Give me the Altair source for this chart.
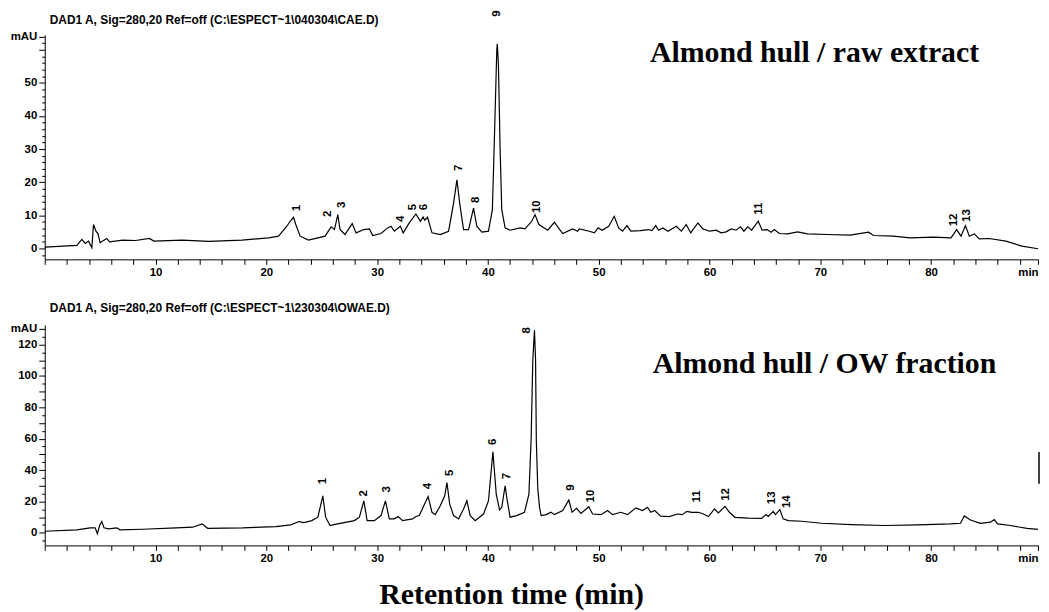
import altair as alt
import pandas as pd

# ---------------- data ----------------
top_time = [0, 2.9, 3.35, 3.65, 3.95, 4.25, 4.4, 4.62, 4.8, 5.0, 5.2, 5.6, 5.85, 7.05, 8.2, 9.45, 9.85,
            12.4, 14.8, 17.8, 20.2, 21.1, 21.85, 22.15, 22.45, 22.65, 23.05, 23.8, 25.3, 25.85, 26.15,
            26.45, 26.65, 27.1, 27.75, 28.1, 28.8, 29.3, 29.6, 30.35, 30.95, 31.25, 31.55, 32.1, 32.35,
            32.9, 33.5, 33.9, 34.15, 34.3, 34.55, 34.95, 35.7, 36.45, 36.9, 37.2, 37.45, 37.8, 38.25,
            38.7, 39.0, 39.45, 40.05, 40.4, 40.6, 40.8, 40.85, 40.95, 41.1, 41.25, 41.55, 42.0, 42.9,
            43.35, 43.95, 44.25, 44.6, 45.4, 46.0, 46.3, 46.75, 47.65, 48.1, 48.25, 49.15, 49.6, 49.95,
            50.3, 50.9, 51.4, 51.8, 52.15, 52.55, 52.9, 53.75, 54.5, 54.8, 55.15, 55.4, 55.8, 56.25,
            57.0, 57.45, 57.9, 58.3, 58.95, 59.4, 60.0, 60.6, 61.05, 61.5, 61.95, 62.4, 62.8, 63.1,
            63.45, 63.8, 64.4, 64.75, 65.2, 65.55, 65.85, 66.3, 67.05, 67.95, 68.85, 70.6, 72.7, 74.35,
            74.8, 76.6, 78.1, 80.2, 81.8, 82.3, 82.7, 83.1, 83.45, 83.9, 84.35, 85.25, 86.75, 88.2, 89.65]
top_mau = [0.4, 0.9, 2.7, 1.5, 2.2, 0.2, 7.2, 5.2, 4.5, 1.7, 2.2, 3.0, 2.0, 2.5, 2.4, 3.0, 2.2,
           2.5, 2.1, 2.5, 3.2, 3.7, 6.7, 8.2, 9.4, 7.3, 3.7, 2.5, 3.7, 6.5, 5.7,
           10.2, 5.7, 4.2, 7.5, 4.7, 5.7, 5.9, 3.9, 4.5, 6.2, 6.7, 5.2, 6.7, 4.7,
           7.7, 10.4, 8.2, 9.5, 8.5, 9.4, 4.7, 4.2, 5.2, 13.7, 20.7, 13.7, 5.7, 5.7,
           12.2, 6.7, 4.9, 5.2, 11.7, 35.0, 60.0, 61.8, 55.0, 30.0, 11.7, 6.2, 5.5, 6.2,
           5.9, 8.2, 10.2, 7.2, 5.5, 7.9, 6.5, 4.5, 5.9, 5.2, 5.9, 5.2, 4.7, 6.2,
           5.5, 6.7, 9.7, 6.2, 5.2, 6.9, 5.2, 5.4, 5.7, 5.4, 6.9, 5.5, 6.2, 5.2,
           6.7, 5.2, 7.2, 4.7, 7.7, 5.9, 5.2, 5.5, 4.7, 5.0, 5.9, 5.5, 6.5, 5.2,
           6.5, 5.5, 8.2, 5.5, 5.7, 4.9, 5.7, 4.5, 4.4, 5.0, 4.4, 4.2, 4.0, 4.9,
           3.9, 3.7, 3.2, 3.4, 3.2, 5.7, 3.7, 6.9, 3.7, 4.4, 2.9, 3.0, 2.2, 0.7, -0.1]

bot_time = [0, 2.9, 4.1, 4.55, 4.75, 4.95, 5.15, 5.35, 5.75, 6.5, 6.8, 8.85, 11.85, 13.35, 14.2, 14.7,
            17.85, 20.85, 22.2, 22.95, 23.4, 24.1, 24.65, 25.1, 25.35, 25.75, 26.2, 27.95, 28.4, 28.8,
            29.1, 29.75, 30.35, 30.75, 31.1, 31.55, 31.9, 32.3, 33.2, 33.5, 33.8, 34.15, 34.6, 34.95,
            35.25, 35.7, 36.1, 36.3, 36.55, 36.9, 37.35, 37.8, 38.1, 38.4, 38.85, 39.6, 40.05, 40.45,
            40.75, 41.05, 41.25, 41.55, 41.75, 42.0, 42.6, 43.3, 43.7, 43.9, 44.05, 44.2, 44.3, 44.37,
            44.5, 44.66, 44.8, 45.26, 45.7, 46.0, 46.75, 47.3, 47.6, 48.0, 48.4, 49.1, 49.45, 50.2,
            50.8, 51.25, 52.0, 52.6, 53.35, 53.95, 54.4, 54.7, 55.05, 55.6, 56.35, 57.1, 57.55, 57.95,
            58.4, 59.0, 59.45, 59.9, 60.45, 60.8, 61.4, 61.8, 62.3, 63.5, 64.7, 65.1, 65.3, 65.75,
            65.95, 66.35, 66.65, 67.1, 68.3, 70.1, 72.8, 75.8, 78.8, 81.75, 82.65, 83.0, 83.55, 84.45,
            85.35, 85.7, 86.0, 87.15, 88.65, 89.65]
bot_mau = [1.0, 1.9, 3.2, 3.2, -0.6, 4.7, 7.2, 3.2, 2.5, 3.2, 1.9, 2.3, 3.2, 3.6, 5.7, 2.9,
           3.2, 4.0, 5.1, 7.2, 6.5, 7.8, 10.0, 23.6, 10.0, 4.7, 5.4, 7.8, 10.0, 20.4,
           7.8, 7.8, 11.0, 20.4, 8.9, 8.9, 10.4, 7.8, 8.9, 10.4, 11.0, 16.3, 23.2, 13.1,
           11.6, 17.3, 23.6, 32.0, 18.3, 11.0, 8.9, 15.2, 20.4, 11.0, 7.8, 12.0, 20.4, 51.6,
           24.7, 14.6, 16.3, 29.9, 20.4, 10.0, 11.0, 13.1, 24.7, 60.0, 110.0, 129.0, 110.0, 58.0,
           28.0, 16.2, 11.0, 11.6, 13.1, 11.6, 14.2, 20.9, 13.1, 15.6, 12.4, 16.6, 12.0, 11.6,
           14.2, 11.6, 13.1, 11.6, 15.9, 14.2, 16.3, 13.1, 14.2, 10.6, 10.4, 12.0, 11.6, 13.7,
           13.1, 13.1, 12.0, 10.4, 15.2, 12.7, 16.9, 13.1, 9.9, 9.4, 9.2, 11.6, 10.4, 13.7,
           11.6, 14.8, 8.9, 7.8, 7.4, 6.1, 5.3, 4.7, 5.1, 5.7, 6.1, 10.8, 8.2, 6.1,
           6.8, 8.4, 5.7, 4.7, 2.8, 2.2]

top_peak_labels = ["1", "2", "3", "4", "5", "6", "7", "8", "9", "10", "11", "12", "13"]
top_label_time = [22.8, 25.55, 26.8, 32.2, 33.2, 34.2, 37.4, 38.9, 40.8, 44.4, 64.45, 82.1, 83.2]
top_label_mau = [11.2, 9.5, 12.2, 8.0, 11.5, 11.5, 23.4, 13.7, 70.0, 10.7, 10.2, 6.7, 8.0]

bot_peak_labels = ["1", "2", "3", "4", "5", "6", "7", "8", "9", "10", "11", "12", "13", "14"]
bot_label_time = [25.1, 28.8, 30.85, 34.55, 36.6, 40.5, 41.7, 43.5, 47.5, 49.3, 58.85, 61.5, 65.65, 67.0]
bot_label_mau = [31.0, 23.2, 25.7, 27.8, 36.3, 55.9, 34.2, 127.0, 26.8, 19.4, 19.4, 20.4, 18.3, 15.8]

top_header = r"DAD1 A, Sig=280,20 Ref=off (C:\ESPECT~1\040304\CAE.D)"
bot_header = r"DAD1 A, Sig=280,20 Ref=off (C:\ESPECT~1\230304\OWAE.D)"
top_title = "Almond hull / raw extract"
bot_title = "Almond hull / OW fraction"
x_title = "Retention time (min)"

top_y_domain = [-3.3, 64.5]
top_y_ticks = list(range(-2, 65, 2))
bot_y_domain = [-8.0, 132.5]
bot_y_ticks = list(range(-5, 131, 5))
X_MAX = 89.65
x_ticks = list(range(0, 89, 2)) + [X_MAX]

# ---------------- styling ----------------
W = 1000
SANS = "Liberation Sans"
SERIF = "Liberation Serif"


def x_axis():
    return alt.Axis(
        values=x_ticks, title=None, grid=False,
        labelExpr=f"datum.value >= {X_MAX} ? 'min' : (datum.value % 10 === 0 && datum.value > 0 ? datum.label : '')",
        labelFlush=True, labelOverlap=False,
        tickSize=5, tickColor="black", tickWidth=1,
        domainColor="black", domainWidth=1,
        labelFont=SANS, labelFontSize=11.5, labelFontWeight="bold", labelColor="black", labelPadding=2,
    )


def y_axis(ticks, mau_tick, major, max_label):
    return alt.Axis(
        values=ticks, title=None, grid=False,
        labelExpr=(f"datum.value === {mau_tick} ? 'mAU' : "
                   f"(datum.value % {major} === 0 && datum.value >= 0 && datum.value <= {max_label} ? datum.label : '')"),
        labelOverlap=False,
        tickSize={"condition": {"test": f"datum.value % 10 === 0 || datum.value === {mau_tick}", "value": 6}, "value": 3},
        tickColor="black", tickWidth=1, domainColor="black", domainWidth=1,
        labelFont=SANS, labelFontSize=11.5, labelFontWeight="bold", labelColor="black", labelPadding=2,
        minExtent=37, maxExtent=37,
    )


def panel(time, mau, labs, lt, lv, ydom, yax, height, header, header_y, title, title_x, title_y, bottom=False):
    line_df = pd.DataFrame({"t": time, "v": mau})
    lab_df = pd.DataFrame({"t": lt, "v": lv, "lab": labs})
    one = pd.DataFrame({"k": [0]})
    xe = alt.X("t:Q", scale=alt.Scale(domain=[0, X_MAX], nice=False, zero=False), axis=x_axis())
    ye = alt.Y("v:Q", scale=alt.Scale(domain=ydom, nice=False, zero=False), axis=yax)

    line = alt.Chart(line_df).mark_line(color="black", strokeWidth=1.2).encode(x=xe, y=ye)
    labels = alt.Chart(lab_df).mark_text(
        angle=270, align="left", baseline="middle", font=SANS, fontSize=11.5,
        fontWeight="bold", color="black"
    ).encode(x=xe, y=ye, text="lab:N")
    head = alt.Chart(one).mark_text(
        text=header, align="left", baseline="middle", font=SANS, fontSize=12,
        fontWeight="bold", color="black"
    ).encode(x=alt.value(5), y=alt.value(header_y))
    ttl = alt.Chart(one).mark_text(
        text=title, align="center", baseline="alphabetic", font=SERIF, fontSize=30,
        fontWeight="bold", color="black"
    ).encode(x=alt.value(title_x), y=alt.value(title_y))
    layers = [line, labels, head, ttl]
    if bottom:
        xt = alt.Chart(one).mark_text(
            text=x_title, align="center", baseline="alphabetic", font=SERIF, fontSize=30,
            fontWeight="bold", color="black"
        ).encode(x=alt.value(470), y=alt.value(281))
        stray = alt.Chart(one).mark_rule(color="black", strokeWidth=1.5).encode(
            x=alt.value(1001), y=alt.value(128), y2=alt.value(160))
        layers += [xt, stray]
    return alt.layer(*layers).properties(width=W, height=height)


top = panel(top_time, top_mau, top_peak_labels, top_label_time, top_label_mau,
            top_y_domain, y_axis(top_y_ticks, 64, 10, 50), 226, top_header, -14.5,
            top_title, 775, 27.5)
bottom = panel(bot_time, bot_mau, bot_peak_labels, bot_label_time, bot_label_mau,
               bot_y_domain, y_axis(bot_y_ticks, 130, 20, 120), 222, bot_header, -17,
               bot_title, 785, 48.4, bottom=True)

chart = alt.vconcat(top, bottom, spacing=24).configure(
    padding={"left": 0, "top": 0, "right": 0, "bottom": 0},
    background="white",
).configure_view(stroke=None)

chart.save("out.html", embed_options={"renderer": "svg", "actions": False})
